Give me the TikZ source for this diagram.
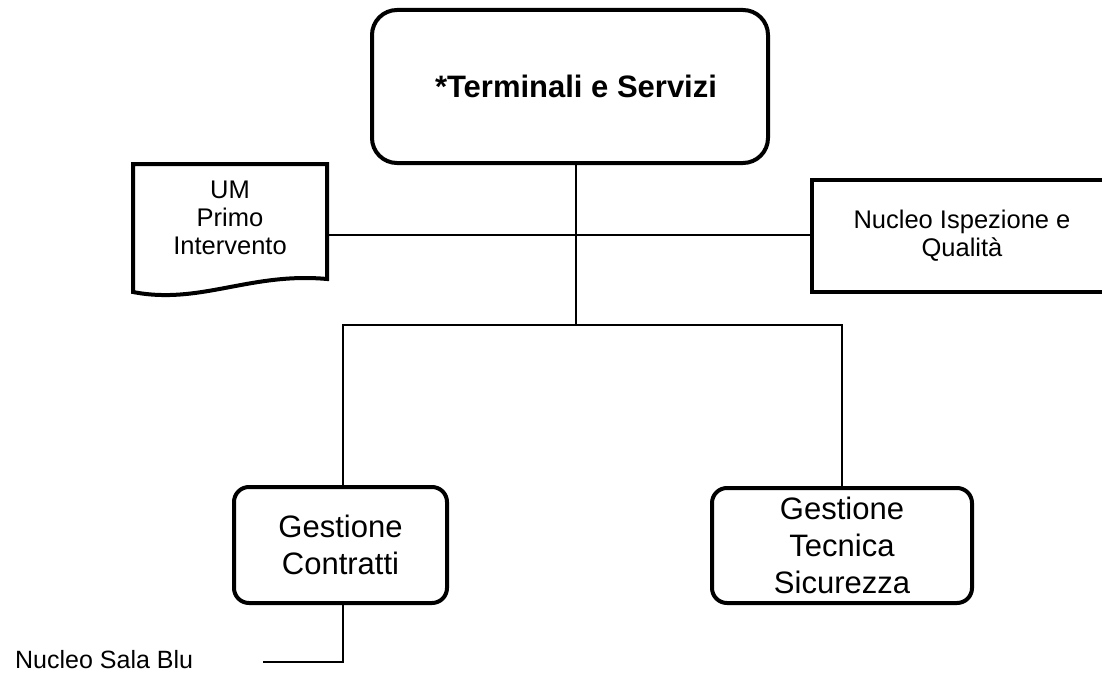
\documentclass[tikz,border=0pt]{standalone}
\usepackage{fontspec}
\setmainfont{Liberation Sans}
\begin{document}
\begin{tikzpicture}[x=1pt,y=-1pt,
  thick box/.style={draw=black,line width=4pt,inner sep=0pt,align=center},
  unit/.style={thick box,rounded corners=15pt},
  head/.style={thick box,rounded corners=25pt,font=\bfseries\fontsize{31}{37}\selectfont},
  bigtext/.style={font=\fontsize{31}{37}\selectfont},
  smalltext/.style={font=\fontsize{25.5}{28}\selectfont,align=center,inner sep=0pt},
  link/.style={draw=black,line width=1.5pt}]
\useasboundingbox (0,0) rectangle (1102,674);
\clip (0,0) rectangle (1102,674);

% head office
\node[head,minimum width=396pt,minimum height=153pt] (ts) at (570,86.5) {\hspace{12pt}*Terminali e Servizi};

% staff unit drawn as a document sheet
\draw[line width=4pt,line join=miter] (133,164) -- (327,164) -- (327,279)
  .. controls (250,272) and (200,305) .. (133,292) -- cycle;
\node[smalltext] (um) at (230,218) {UM\\Primo\\Intervento};
\coordinate (umR) at (327,235);

% staff unit on the right
\node[thick box,smalltext,minimum width=300pt,minimum height=112pt] (nq) at (962,236) {Nucleo Ispezione e\\Qualità};

% line units
\node[unit,bigtext,minimum width=213pt,minimum height=116pt] (gc) at (340.5,545) {Gestione\\Contratti};
\node[unit,bigtext,minimum width=260pt,minimum height=115pt] (gt) at (842,545.5) {Gestione\\Tecnica\\Sicurezza};

\node[anchor=base west,inner sep=0pt,font=\fontsize{25}{28}\selectfont] (sb) at (15,668) {Nucleo Sala Blu};

% connectors
\coordinate (bus) at (576,325);
\coordinate (mid) at (576,235);
\draw[link] (ts.south -| bus) -- (bus);
\draw[link] (umR) -- (nq.west |- mid);
\draw[link] (gc.north -| 343,0) -- (343,325) -- (842,325) -- (gt.north -| 842,0);
\coordinate (sbR) at (263,662);
\draw[link] (gc.south -| 343,0) -- (343,662) -- (sbR);
\end{tikzpicture}
\end{document}
